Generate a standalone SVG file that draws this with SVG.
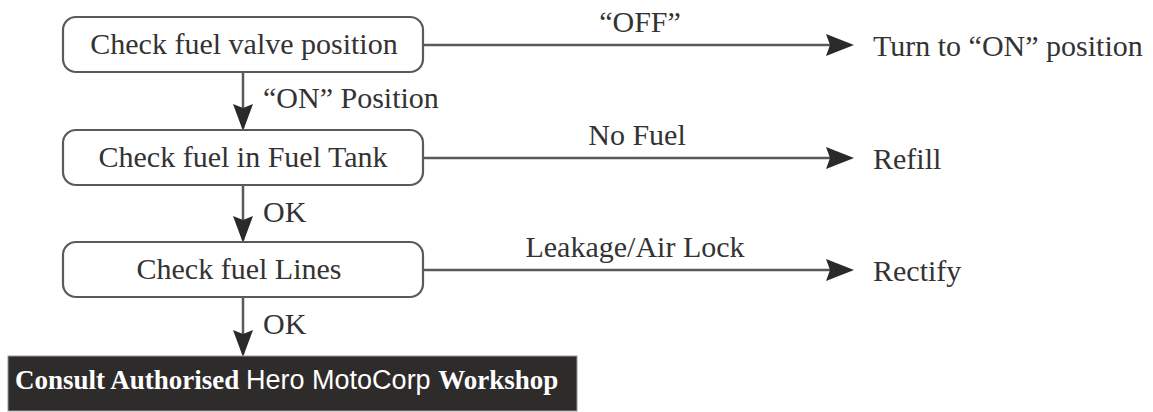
<svg xmlns="http://www.w3.org/2000/svg" width="1153" height="412" viewBox="0 0 1153 412">
<style>
.box{fill:#fff;stroke:#5a5a5a;stroke-width:2.2}
.t{font-family:"Liberation Serif",serif;font-size:30px;fill:#333}
.c{stroke:#5a5a5a;stroke-width:2.5;fill:none}
.dark{fill:#2e2b2b;stroke:#999;stroke-width:1}
.w{font-family:"Liberation Serif",serif;font-size:27px;fill:#fff;font-weight:bold}
.ws{font-family:"Liberation Sans",sans-serif;font-size:27px;fill:#fff;font-weight:normal}
</style>
<rect width="1153" height="412" fill="#fff"/>
<g id="connectors">
<line class="c" x1="423" y1="45" x2="850" y2="45"/>
<path d="M826,34 L854,45 L826,56 L830,45 Z" fill="#2a2a2a"/>
<line class="c" x1="423" y1="158" x2="850" y2="158"/>
<path d="M826,147 L854,158 L826,169 L830,158 Z" fill="#2a2a2a"/>
<line class="c" x1="423" y1="270" x2="850" y2="270"/>
<path d="M826,259 L854,270 L826,281 L830,270 Z" fill="#2a2a2a"/>
<line class="c" x1="243" y1="72" x2="243" y2="128"/>
<path d="M233,104 L243,131 L253,104 L243,108 Z" fill="#2a2a2a"/>
<line class="c" x1="243" y1="185" x2="243" y2="240"/>
<path d="M233,216 L243,243 L253,216 L243,220 Z" fill="#2a2a2a"/>
<line class="c" x1="243" y1="297" x2="243" y2="354"/>
<path d="M233,330 L243,357 L253,330 L243,334 Z" fill="#2a2a2a"/>
<text class="t" x="640" y="32" text-anchor="middle">“OFF”</text>
<text class="t" x="263" y="108">“ON” Position</text>
<text class="t" x="637" y="145" text-anchor="middle">No Fuel</text>
<text class="t" x="263" y="222">OK</text>
<text class="t" x="635" y="257" text-anchor="middle">Leakage/Air Lock</text>
<text class="t" x="263" y="334">OK</text>
</g>
<g id="n1"><rect class="box" x="63" y="17" width="360" height="55" rx="13"/><text class="t" x="244" y="54" text-anchor="middle">Check fuel valve position</text></g>
<g id="n2"><rect class="box" x="63" y="130" width="360" height="55" rx="13"/><text class="t" x="243" y="167" text-anchor="middle">Check fuel in Fuel Tank</text></g>
<g id="n3"><rect class="box" x="63" y="242" width="360" height="55" rx="13"/><text class="t" x="239" y="279" text-anchor="middle">Check fuel Lines</text></g>
<g id="r1"><text class="t" x="873" y="56">Turn to “ON” position</text></g>
<g id="r2"><text class="t" x="873" y="169">Refill</text></g>
<g id="r3"><text class="t" x="873" y="281">Rectify</text></g>
<g id="n4"><rect class="dark" x="8" y="356" width="569" height="55"/><text x="15" y="389"><tspan class="w">Consult Authorised </tspan><tspan class="ws">Hero MotoCorp </tspan><tspan class="w">Workshop</tspan></text></g>
</svg>
